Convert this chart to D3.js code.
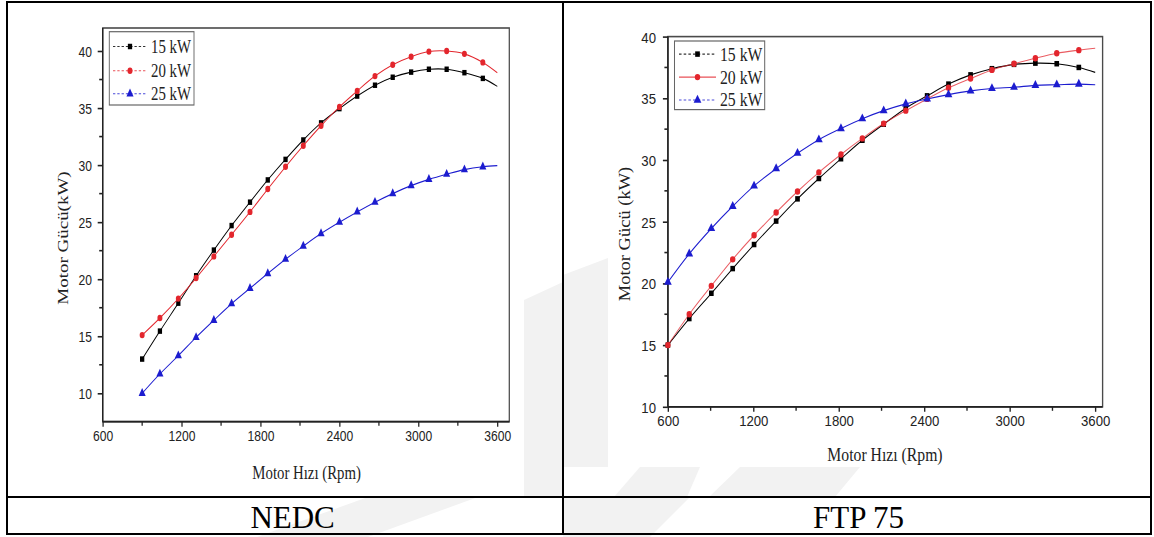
<!DOCTYPE html>
<html>
<head>
<meta charset="utf-8">
<script src="https://cdn.jsdelivr.net/npm/d3@7"></script>
<style>
  body { margin: 0; background: #fff; }
  svg { display: block; }
</style>
</head>
<body>
<div id="chart"></div>
<script>
const W = 1154, H = 537;

// NEDC panel (last point is where the curve stops, it has no symbol in the original)
const nedcRpm = [900, 1035, 1175, 1310, 1445, 1580, 1720, 1855, 1990, 2125, 2260, 2400, 2535, 2670, 2805, 2945, 3080, 3215, 3350, 3490, 3600];
const nedc15 = [13.0, 15.45, 17.9, 20.3, 22.55, 24.7, 26.75, 28.7, 30.5, 32.2, 33.7, 34.95, 36.05, 37.0, 37.7, 38.15, 38.4, 38.4, 38.1, 37.6, 36.9];
const nedc20 = [15.1, 16.6, 18.3, 20.1, 22.0, 23.9, 25.9, 27.9, 29.85, 31.7, 33.45, 35.1, 36.5, 37.8, 38.8, 39.5, 39.95, 40.0, 39.75, 39.0, 38.1];
const nedc25 = [10.0, 11.7, 13.3, 14.9, 16.4, 17.85, 19.2, 20.5, 21.75, 22.9, 24.0, 25.0, 25.9, 26.75, 27.5, 28.2, 28.75, 29.2, 29.6, 29.85, 29.95];

// FTP 75 panel
const ftpRpm = [600, 750, 905, 1055, 1205, 1360, 1510, 1660, 1815, 1965, 2115, 2270, 2420, 2570, 2725, 2875, 3030, 3180, 3330, 3485, 3600];
const ftp15 = [15.0, 17.15, 19.2, 21.2, 23.15, 25.05, 26.85, 28.5, 30.1, 31.6, 32.9, 34.2, 35.2, 36.15, 36.9, 37.4, 37.75, 37.85, 37.8, 37.5, 37.1];
const ftp20 = [15.0, 17.5, 19.8, 21.95, 23.9, 25.75, 27.45, 29.0, 30.45, 31.75, 32.95, 34.0, 34.95, 35.85, 36.6, 37.3, 37.8, 38.25, 38.65, 38.9, 39.05];
const ftp25 = [20.1, 22.4, 24.45, 26.25, 27.9, 29.3, 30.55, 31.65, 32.55, 33.35, 34.0, 34.55, 34.95, 35.3, 35.6, 35.8, 35.9, 36.05, 36.1, 36.15, 36.1];

const seriesNames = ["15 kW", "20 kW", "25 kW"];
const xTicks = [600, 1200, 1800, 2400, 3000, 3600];
const yTicks = [10, 15, 20, 25, 30, 35, 40];
const cycleLabels = ["NEDC", "FTP 75"];

const colors = ["#000000", "#e3262d", "#1c1ccf"];
const symbols = [d3.symbolSquare, d3.symbolCircle, d3.symbolTriangle];
const symSize = [30, 32, 36];

const svg = d3.select("#chart").append("svg")
    .attr("width", W).attr("height", H);

// faint watermark behind the figures
const wm = [
    [[524, 300], [563, 282], [563, 497], [524, 497]],
    [[563, 275], [608, 258], [608, 467], [563, 467]],
    [[257, 537], [368, 537], [478, 497], [368, 497]],
    [[563, 537], [650, 537], [690, 497], [563, 497]],
    [[614, 497], [687, 497], [700, 467], [640, 467]],
    [[709, 497], [835, 497], [860, 467], [740, 467]]
];
svg.selectAll(".wm").data(wm).enter().append("polygon")
    .attr("class", "wm")
    .attr("points", d => d.map(p => p.join(",")).join(" "))
    .attr("fill", "#f2f2f2");

// white picture areas of the two figures
svg.append("rect").attr("x", 8).attr("y", 3).attr("width", 516).attr("height", 478).attr("fill", "#fff");
svg.append("rect").attr("x", 608).attr("y", 3).attr("width", 542).attr("height", 464).attr("fill", "#fff");

const panels = [
    {
        sx: 0.78, rpm: nedcRpm, data: [nedc15, nedc20, nedc25],
        xr: [102.7, 497.3], yr: [393.3, 51], frame: [102.7, 509.3, 28, 421.7],
        yLabel: "Motor Gücü(kW)", yTitle: [63.3, 238], xTitle: [306.6, 479],
        labelX: 92, labelY: 446.5, font: 19,
        legend: {box: [109.3, 31.7, 194, 105], rows: [46.5, 70.8, 93.8], line: [113, 147], text: 151, dash: ["3,2.5", "3,2.5", "3,2.5"]}
    },
    {
        sx: 0.85, rpm: ftpRpm, data: [ftp15, ftp20, ftp25],
        xr: [667.9, 1095.2], yr: [406.8, 36.6], frame: [667.9, 1102.6, 36.6, 406.8],
        yLabel: "Motor Gücü (kW)", yTitle: [624.8, 234], xTitle: [885, 461.5],
        labelX: 656, labelY: 431.5, font: 18.5,
        legend: {box: [674.5, 41, 764.7, 109.6], rows: [54.1, 77.1, 100], line: [679, 716], text: 720, dash: ["3,2.5", null, "3,2.5"]}
    }
];

panels.forEach(p => drawPanel(p));

function drawPanel(p) {
    const s = p.sx;
    // the original pictures are squeezed sideways, so draw unsqueezed then scale x
    const g = svg.append("g").attr("transform", "scale(" + s + ",1)");
    const x = d3.scaleLinear().domain([600, 3600]).range([p.xr[0] / s, p.xr[1] / s]);
    const y = d3.scaleLinear().domain([10, 40]).range(p.yr);
    const [fl, fr, ft, fb] = [p.frame[0] / s, p.frame[1] / s, p.frame[2], p.frame[3]];

    // frame
    g.append("rect").attr("x", fl).attr("y", ft).attr("width", fr - fl).attr("height", fb - ft)
        .attr("fill", "none").attr("stroke", "#4a4a4a").attr("stroke-width", 1.6);

    // x axis
    const yMinor = d3.range(12.5, 40, 5).filter(v => y(v) < fb);
    const xMinor = d3.range(900, 3600, 600);
    const xAxis = g.append("g").attr("transform", "translate(0," + fb + ")")
        .call(d3.axisBottom(x).tickValues(xTicks).tickSize(5).tickSizeOuter(0).tickFormat(d3.format("d")));
    xAxis.select(".domain").remove();
    xAxis.selectAll("line").attr("stroke", "#222").attr("stroke-width", 1.6);
    xAxis.selectAll("text").attr("y", p.labelY - fb - 5).attr("dy", null)
        .attr("font-family", "Liberation Sans, Arial, sans-serif").attr("font-size", 15.5).attr("fill", "#222");
    g.selectAll(".xminor").data(xMinor).enter().append("line")
        .attr("x1", d => x(d)).attr("x2", d => x(d)).attr("y1", fb).attr("y2", fb + 4)
        .attr("stroke", "#222").attr("stroke-width", 1.6);

    // y axis
    const yAxis = g.append("g").attr("transform", "translate(" + fl + ",0)")
        .call(d3.axisLeft(y).tickValues(yTicks).tickSize(5 / s).tickSizeOuter(0));
    yAxis.select(".domain").remove();
    yAxis.selectAll("line").attr("stroke", "#222").attr("stroke-width", 1.6);
    yAxis.selectAll("text").attr("x", p.labelX / s - fl).attr("dy", "0.36em")
        .attr("font-family", "Liberation Sans, Arial, sans-serif").attr("font-size", 15.5).attr("fill", "#222");
    g.selectAll(".yminor").data(yMinor).enter().append("line")
        .attr("x1", fl).attr("x2", fl - 3.5 / s).attr("y1", d => y(d)).attr("y2", d => y(d))
        .attr("stroke", "#222").attr("stroke-width", 1.6);

    // axis lines on top
    g.append("line").attr("x1", fl).attr("x2", fr).attr("y1", fb).attr("y2", fb).attr("stroke", "#222").attr("stroke-width", 1.8);
    g.append("line").attr("x1", fl).attr("x2", fl).attr("y1", ft).attr("y2", fb).attr("stroke", "#222").attr("stroke-width", 1.8);

    // titles
    g.append("text").attr("x", p.xTitle[0] / s).attr("y", p.xTitle[1])
        .attr("text-anchor", "middle").attr("font-family", "Liberation Serif, Times New Roman, serif")
        .attr("font-size", p.font).attr("fill", "#222").text("Motor Hızı (Rpm)");
    g.append("text")
        .attr("transform", "translate(" + (p.yTitle[0] / s) + "," + p.yTitle[1] + ") rotate(-90)")
        .attr("text-anchor", "middle").attr("dominant-baseline", "central")
        .attr("font-family", "Liberation Serif, Times New Roman, serif")
        .attr("font-size", p.font).attr("fill", "#222").text(p.yLabel);

    // curves and symbols
    const line = d3.line().x((d, i) => x(p.rpm[i])).y(d => y(d)).curve(d3.curveCatmullRom.alpha(0.5));
    p.data.forEach((vals, k) => {
        g.append("path").datum(vals).attr("d", line)
            .attr("fill", "none").attr("stroke", colors[k]).attr("stroke-width", 1.1)
            .attr("stroke-opacity", k == 1 && s > 0.8 ? 0.75 : 1);
        const sym = d3.symbol().type(symbols[k]).size(symSize[k]);
        g.selectAll(".m" + k).data(vals.slice(0, vals.length - 1)).enter().append("path")
            .attr("d", sym)
            .attr("transform", (d, i) => "translate(" + x(p.rpm[i]) + "," + y(d) + ")")
            .attr("fill", colors[k]);
    });

    // legend
    const L = p.legend;
    g.append("rect").attr("x", L.box[0] / s).attr("y", L.box[1])
        .attr("width", (L.box[2] - L.box[0]) / s).attr("height", L.box[3] - L.box[1])
        .attr("fill", "#fff").attr("stroke", "#666").attr("stroke-width", 1.2);
    seriesNames.forEach((name, k) => {
        const ry = L.rows[k];
        g.append("line").attr("x1", L.line[0] / s).attr("x2", L.line[1] / s).attr("y1", ry).attr("y2", ry)
            .attr("stroke", colors[k]).attr("stroke-width", 1.1).attr("stroke-opacity", 0.8)
            .attr("stroke-dasharray", L.dash[k]);
        g.append("path").attr("d", d3.symbol().type(symbols[k]).size(symSize[k]))
            .attr("transform", "translate(" + ((L.line[0] + L.line[1]) / 2 / s) + "," + ry + ")")
            .attr("fill", colors[k]);
        g.append("text").attr("x", L.text / s).attr("y", ry + 6.5)
            .attr("font-family", "Liberation Serif, Times New Roman, serif")
            .attr("font-size", p.font).attr("fill", "#222").text(name);
    });
}

// table lines
const tbl = svg.append("g").attr("stroke", "#000").attr("stroke-width", 2).attr("fill", "none");
tbl.append("rect").attr("x", 7).attr("y", 2).attr("width", 1144).attr("height", 532);
tbl.append("line").attr("x1", 563).attr("x2", 563).attr("y1", 2).attr("y2", 534);
tbl.append("line").attr("x1", 7).attr("x2", 1151).attr("y1", 497).attr("y2", 497);

// cycle names under the figures
svg.selectAll(".cyc").data(cycleLabels).enter().append("text")
    .attr("class", "cyc")
    .attr("x", (d, i) => [292.6, 858.5][i]).attr("y", 527.5)
    .attr("text-anchor", "middle")
    .attr("font-family", "Liberation Serif, Times New Roman, serif")
    .attr("font-size", 31).attr("fill", "#000")
    .text(d => d);
</script>
</body>
</html>
